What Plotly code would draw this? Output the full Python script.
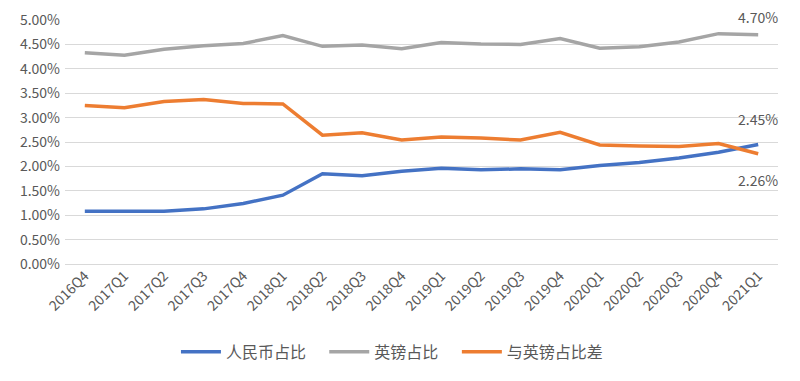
import plotly.graph_objects as go

quarters = ["2016Q4", "2017Q1", "2017Q2", "2017Q3", "2017Q4", "2018Q1", "2018Q2", "2018Q3",
            "2018Q4", "2019Q1", "2019Q2", "2019Q3", "2019Q4", "2020Q1", "2020Q2", "2020Q3",
            "2020Q4", "2021Q1"]
rmb_share = [1.08, 1.08, 1.08, 1.13, 1.24, 1.41, 1.85, 1.81, 1.90, 1.96, 1.93, 1.95, 1.93,
             2.02, 2.08, 2.17, 2.29, 2.45]
gbp_share = [4.33, 4.28, 4.40, 4.47, 4.52, 4.68, 4.46, 4.49, 4.41, 4.54, 4.51, 4.50, 4.62,
             4.42, 4.45, 4.55, 4.72, 4.70]
gap = [3.25, 3.20, 3.33, 3.37, 3.29, 3.28, 2.64, 2.69, 2.54, 2.60, 2.58, 2.54, 2.70,
       2.44, 2.42, 2.41, 2.47, 2.26]
yticks = [0, 0.5, 1.0, 1.5, 2.0, 2.5, 3.0, 3.5, 4.0, 4.5, 5.0]

FONT = "Noto Sans CJK SC"
TXT = "#595959"

fig = go.Figure()
fig.add_trace(go.Scatter(x=quarters, y=rmb_share, mode="lines", name="人民币占比",
                         line=dict(color="#4472C4", width=3.5), legend="legend"))
fig.add_trace(go.Scatter(x=quarters, y=gbp_share, mode="lines", name="英镑占比",
                         line=dict(color="#A5A5A5", width=3.5), legend="legend2"))
fig.add_trace(go.Scatter(x=quarters, y=gap, mode="lines", name="与英镑占比差",
                         line=dict(color="#ED7D31", width=3.5), legend="legend3"))

fig.add_annotation(x=quarters[-1], y=gbp_share[-1], text=f"{gbp_share[-1]:.2f}%",
                   showarrow=False, yshift=18, font=dict(size=14, color=TXT, family=FONT))
fig.add_annotation(x=quarters[-1], y=rmb_share[-1], text=f"{rmb_share[-1]:.2f}%",
                   showarrow=False, yshift=25, font=dict(size=14, color=TXT, family=FONT))
fig.add_annotation(x=quarters[-1], y=gap[-1], text=f"{gap[-1]:.2f}%",
                   showarrow=False, yshift=-26, font=dict(size=14, color=TXT, family=FONT))

leg_common = dict(orientation="h", xanchor="left", y=-0.36, yanchor="middle",
                  font=dict(size=16, color=TXT, family=FONT), itemwidth=40,
                  bgcolor="rgba(0,0,0,0)")

# page body has an 8px margin; figure is sized/margined to compensate
fig.update_layout(
    width=792, height=373,
    margin=dict(l=57, r=22, t=12, b=117, autoexpand=False),
    paper_bgcolor="white", plot_bgcolor="white",
    font=dict(family=FONT, color=TXT, size=14),
    showlegend=True,
    legend=dict(x=0.1556, **leg_common),
    legend2=dict(x=0.3636, **leg_common),
    legend3=dict(x=0.5496, **leg_common),
)
fig.update_xaxes(type="category", tickangle=-45, showgrid=False, showline=False, automargin=False,
                 ticks="", tickfont=dict(size=14, color=TXT, family=FONT), range=[-0.5, 17.5])
fig.update_yaxes(range=[0, 5], tickvals=yticks, ticktext=[f"{v:.2f}%" for v in yticks],
                 showgrid=True, gridcolor="#D9D9D9", gridwidth=1, zeroline=True, automargin=False,
                 zerolinecolor="#D9D9D9", zerolinewidth=1,
                 tickfont=dict(size=14, color=TXT, family=FONT), ticks="", ticklabelstandoff=4)

fig.write_html("out.html")
